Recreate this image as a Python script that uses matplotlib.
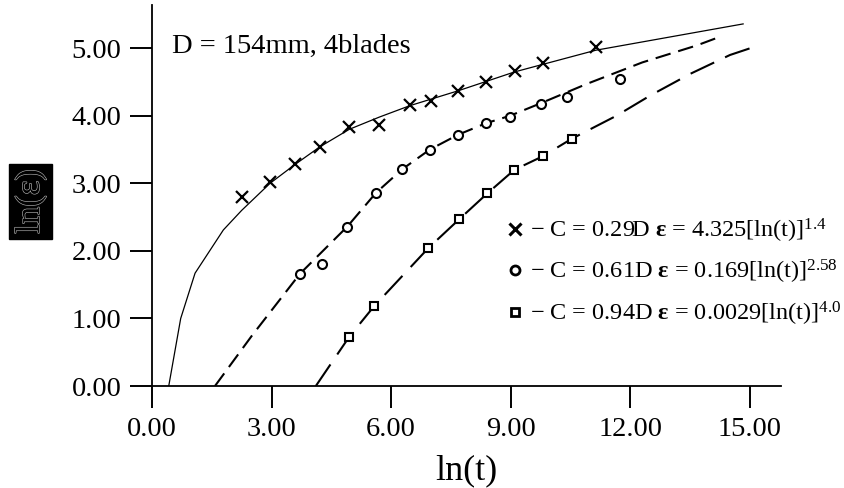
import matplotlib
matplotlib.use("Agg")
import matplotlib.pyplot as plt
from matplotlib.lines import Line2D
import matplotlib.patheffects as pe

plt.rcParams["font.family"] = ["Liberation Serif", "DejaVu Serif"]
plt.rcParams["mathtext.fontset"] = "custom"
plt.rcParams["mathtext.rm"] = "Liberation Serif"
plt.rcParams["mathtext.it"] = "Liberation Serif:italic"
plt.rcParams["mathtext.bf"] = "Liberation Serif:bold"

# Measured points: ln(t) vs ln(eps) for three clearances
x_c029 = [2.25, 2.96, 3.59, 4.21, 4.95, 5.70, 6.47, 7.01, 7.68, 8.38, 9.10, 9.81, 11.13]
y_c029 = [2.80, 3.02, 3.29, 3.54, 3.84, 3.87, 4.16, 4.22, 4.37, 4.50, 4.67, 4.78, 5.02]

x_c061 = [3.71, 4.27, 4.90, 5.62, 6.28, 6.97, 7.68, 8.38, 8.98, 9.77, 10.40, 11.74]
y_c061 = [1.66, 1.80, 2.36, 2.86, 3.21, 3.50, 3.72, 3.89, 3.98, 4.18, 4.28, 4.55]

x_c094 = [4.95, 5.57, 6.93, 7.71, 8.41, 9.09, 9.80, 10.53]
y_c094 = [0.73, 1.18, 2.04, 2.47, 2.85, 3.20, 3.40, 3.66]

# Fitted curves
fx_c029 = [0.42, 0.72, 1.08, 1.79, 2.25, 2.96, 3.59, 4.21, 4.95, 5.70, 6.47, 7.68, 9.10, 11.13, 14.83]
fy_c029 = [0.00, 1.00, 1.67, 2.31, 2.60, 3.00, 3.28, 3.54, 3.80, 3.98, 4.15, 4.37, 4.65, 4.97, 5.36]

fx_c061 = [1.58, 2.50, 3.71, 4.90, 5.62, 6.28, 6.97, 7.68, 8.38, 8.98, 9.77, 10.90, 12.30, 13.66, 14.25]
fy_c061 = [0.00, 0.74, 1.66, 2.36, 2.86, 3.21, 3.50, 3.72, 3.89, 4.00, 4.19, 4.47, 4.79, 5.04, 5.17]

fx_c094 = [4.11, 4.95, 5.57, 6.93, 7.71, 8.41, 9.09, 9.80, 10.53, 11.65, 12.50, 13.50, 14.50, 15.21]
fy_c094 = [0.00, 0.73, 1.18, 2.04, 2.47, 2.85, 3.20, 3.40, 3.66, 4.00, 4.30, 4.62, 4.90, 5.04]

xticks = [0, 3, 6, 9, 12, 15]
yticks = [0, 1, 2, 3, 4, 5]

labels = [
    r"$-$ C = 0.29D $\mathbf{ε}$ = 4.325[ln(t)]$^{1.4}$",
    r"$-$ C = 0.61D $\mathbf{ε}$ = 0.169[ln(t)]$^{2.58}$",
    r"$-$ C = 0.94D $\mathbf{ε}$ = 0.0029[ln(t)]$^{4.0}$",
]

W, H = 844, 488
fig = plt.figure(figsize=(W / 100, H / 100), dpi=100)
ax = fig.add_axes([152 / W, (H - 386) / H, (781 - 152) / W, (386 - 5) / H])

ax.plot(fx_c029, fy_c029, color="black", lw=0.9, solid_joinstyle="round")
ax.plot(fx_c061, fy_c061, color="black", lw=1.5, dashes=(7.5, 3.8))
ax.plot(fx_c094, fy_c094, color="black", lw=1.5, dashes=(12.5, 5.8))

ax.plot(x_c029, y_c029, ls="none", marker="x", ms=8.5, mew=1.6, color="black")
ax.plot(x_c061, y_c061, ls="none", marker="o", ms=6.5, mew=1.5, mfc="white", mec="black")
ax.plot(x_c094, y_c094, ls="none", marker="s", ms=6.0, mew=1.5, mfc="white", mec="black")

ax.set_xlim(0, 15.78)
ax.set_ylim(0, 5.64)
ax.set_xticks(xticks)
ax.set_yticks(yticks)
ax.set_xticklabels([f"{v:.2f}" for v in xticks])
ax.set_yticklabels([f"{v:.2f}" for v in yticks])

for s in ("top", "right"):
    ax.spines[s].set_visible(False)
for s in ("left", "bottom"):
    ax.spines[s].set_linewidth(1.3)
ax.tick_params(direction="out", length=16, width=1.4, labelsize=20.5, pad=6)

ax.set_xlabel("ln(t)", fontsize=26, labelpad=9)

fig.text(30.5 / W, 1 - 201.5 / H, "ln(ε)", rotation=90, fontsize=25,
         ha="center", va="center", color="black",
         path_effects=[pe.Stroke(linewidth=0.9, foreground="#b0b0b0"), pe.Normal()],
         bbox=dict(boxstyle="square,pad=0.15", fc="black", ec="black"))

ax.text((172 - 152) / 629, (386 - 46.7) / 381, "D = 154mm, 4blades",
        transform=ax.transAxes, fontsize=20.5, ha="left", va="center")

handles = [
    Line2D([], [], ls="none", marker="x", ms=8.5, mew=2.2, color="black"),
    Line2D([], [], ls="none", marker="o", ms=6.5, mew=2.0, mfc="white", mec="black"),
    Line2D([], [], ls="none", marker="s", ms=6.0, mew=2.0, mfc="white", mec="black"),
]
fig.legend(handles, labels, loc="center left",
           bbox_to_anchor=(508 / W, 1 - 272 / H), frameon=False,
           fontsize=17.5, handlelength=0.6, handletextpad=0.3,
           labelspacing=0.55, borderpad=0, borderaxespad=0)

fig.savefig("out.png", dpi=100)
